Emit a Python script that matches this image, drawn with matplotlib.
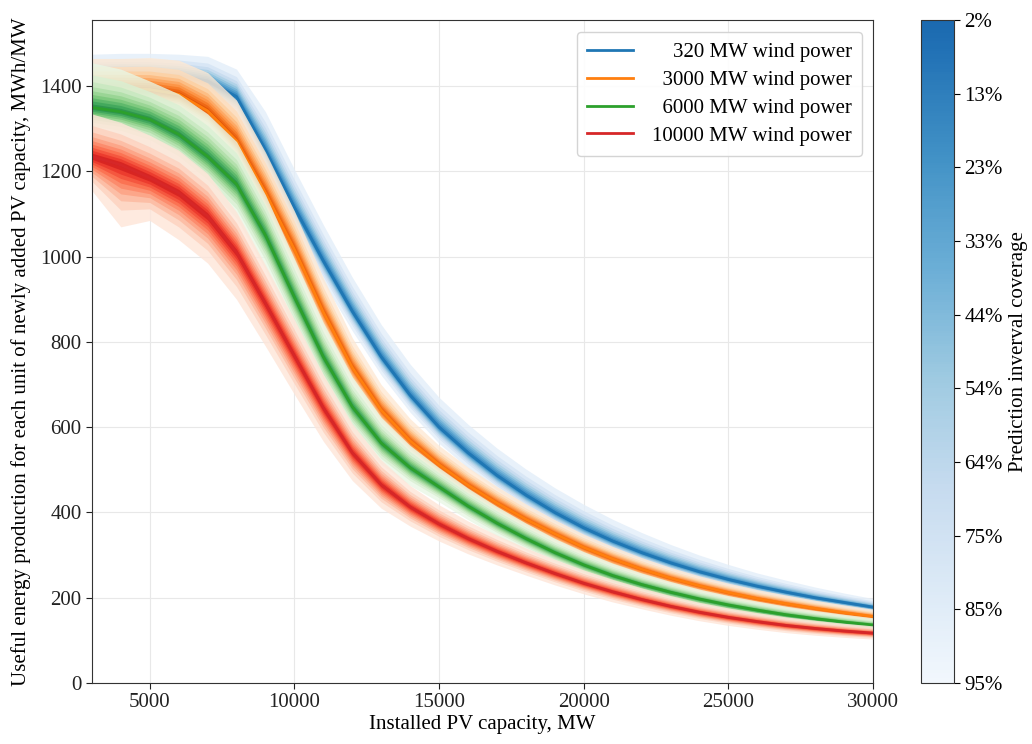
import numpy as np
import matplotlib
matplotlib.use("Agg")
import matplotlib.pyplot as plt
from matplotlib.colors import ListedColormap, Normalize
from matplotlib.cm import ScalarMappable
from statistics import NormalDist

plt.rcParams["font.family"] = ["Liberation Serif", "DejaVu Serif"]
plt.rcParams["font.size"] = 15

# x axis: installed PV capacity, MW
pv_mw = np.arange(3000, 30001, 1000)

# median useful energy per unit of newly added PV, MWh/MW
med_320 = [1430, 1432, 1430, 1425, 1412, 1375, 1250, 1115, 990, 872, 765, 675, 600, 540,
           487, 441, 400, 364, 333, 306, 282, 261, 243, 227, 213, 200, 189, 178]
med_3000 = [1395, 1395, 1392, 1381, 1342, 1272, 1150, 1017, 870, 740, 640, 568, 512, 464,
            422, 384, 350, 318, 291, 267, 246, 228, 212, 198, 186, 175, 165, 156]
med_6000 = [1350, 1340, 1322, 1287, 1235, 1170, 1050, 905, 765, 648, 563, 505, 460, 415,
            375, 339, 306, 277, 252, 231, 213, 197, 183, 171, 160, 151, 143, 136]
med_10000 = [1235, 1215, 1185, 1150, 1095, 1010, 890, 767, 645, 540, 465, 413, 373, 339,
             309, 282, 257, 234, 214, 196, 180, 166, 154, 144, 135, 128, 122, 117]

# distance from the median to the 95% interval edges (above / below)
up_320 = [45, 45, 47, 50, 58, 65, 90, 90, 85, 80, 76, 73, 70, 67, 64, 61, 58, 55, 51, 47,
          43, 39, 35, 31, 28, 25, 22, 20]
lo_320 = [40, 40, 40, 40, 45, 50, 55, 55, 50, 46, 43, 40, 38, 36, 34, 32, 30, 28, 26, 24,
          22, 20, 19, 18, 17, 16, 15, 14]
up_3000 = [70, 70, 75, 80, 90, 95, 95, 90, 80, 70, 60, 52, 45, 42, 39, 36, 33, 31, 29, 27,
           25, 23, 22, 21, 20, 19, 18, 17]
lo_3000 = [45, 45, 45, 45, 45, 50, 55, 55, 50, 45, 40, 36, 32, 30, 28, 27, 26, 25, 24, 22,
           21, 20, 19, 18, 17, 16, 15, 14]
up_6000 = [105, 100, 90, 95, 100, 100, 95, 90, 80, 70, 60, 52, 45, 42, 39, 36, 33, 31, 29,
           27, 25, 23, 22, 21, 20, 19, 18, 17]
lo_6000 = [60, 60, 65, 70, 75, 80, 80, 75, 70, 60, 50, 42, 35, 32, 30, 28, 26, 25, 24, 22,
           21, 20, 19, 18, 17, 16, 15, 14]
up_10000 = [100, 100, 100, 100, 100, 95, 90, 85, 78, 68, 58, 50, 45, 41, 38, 35, 33, 31, 29,
            27, 25, 23, 22, 21, 20, 19, 18, 17]
lo_10000 = [80, 145, 100, 110, 110, 110, 100, 90, 78, 65, 55, 45, 40, 36, 32, 29, 27, 25, 24,
            22, 21, 20, 19, 18, 17, 16, 15, 14]

labels = ["\u2007\u2007320 MW wind power", "\u20073000 MW wind power",
          "\u20076000 MW wind power", "10000 MW wind power"]
line_colors = ["#1f77b4", "#ff7f0e", "#2ca02c", "#d62728"]
band_cmaps = ["Blues", "Oranges", "Greens", "Reds"]

coverage_labels = ["2%", "13%", "23%", "33%", "44%", "54%", "64%", "75%", "85%", "95%"]
coverage = np.linspace(2, 95, len(coverage_labels))

series = [
    (med_320, up_320, lo_320),
    (med_3000, up_3000, lo_3000),
    (med_6000, up_6000, lo_6000),
    (med_10000, up_10000, lo_10000),
]


def shade(cmap_name, c):
    # 2% coverage -> dark end of the map, 95% -> pale end
    t = 0.8 - 0.7 * (c - 2) / 93
    return plt.get_cmap(cmap_name)(t)


fig = plt.figure(figsize=(10.32, 7.44), dpi=100)
ax = fig.add_axes([0.089, 0.082, 0.757, 0.891])
cax = fig.add_axes([0.8925, 0.082, 0.032, 0.891])

z95 = NormalDist().inv_cdf(0.975)
handles = []
for (med, up, lo), cmap_name, col, lab in zip(series, band_cmaps, line_colors, labels):
    med = np.asarray(med, float)
    up = np.asarray(up, float)
    lo = np.asarray(lo, float)
    for c in coverage[::-1]:
        k = NormalDist().inv_cdf(0.5 + c / 200) / z95
        ax.fill_between(pv_mw, med - lo * k, med + up * k, color=shade(cmap_name, c),
                        alpha=0.8, lw=0, zorder=2)
    h, = ax.plot(pv_mw, med, color=col, lw=2, label=lab, zorder=2)
    handles.append(h)

ax.set_xlim(3000, 30000)
ax.set_ylim(0, 1555)
ax.set_xticks(range(5000, 30001, 5000))
ax.set_yticks(range(0, 1401, 200))
ax.grid(True, color="#e8e8e8", lw=0.8, zorder=0)
ax.set_axisbelow(True)
for s in ax.spines.values():
    s.set_color("#333333")
ax.tick_params(colors="#222222", length=4)
ax.set_xlabel("Installed PV capacity, MW", labelpad=2)
ax.set_ylabel("Useful energy production for each unit of newly added PV capacity, MWh/MW",
              labelpad=6)

leg = ax.legend(handles=handles, loc="upper right", fontsize=15, handlelength=2.2,
                handletextpad=0.9, borderpad=0.5, labelspacing=0.4, borderaxespad=0,
                bbox_to_anchor=(0.986, 0.982), framealpha=0.9, edgecolor="#d0d0d0")
leg.set_zorder(5)

bar_cmap = ListedColormap(plt.get_cmap("Blues")(np.linspace(0.78, 0.03, 256)))
sm = ScalarMappable(norm=Normalize(2, 95), cmap=bar_cmap)
cb = fig.colorbar(sm, cax=cax)
cb.set_ticks(coverage)
cb.set_ticklabels(coverage_labels)
cax.invert_yaxis()
cb.outline.set_edgecolor("#333333")
cax.tick_params(length=4)
cb.set_label("Prediction inverval coverage", fontsize=15, labelpad=4)

fig.savefig("out.png", dpi=100)
